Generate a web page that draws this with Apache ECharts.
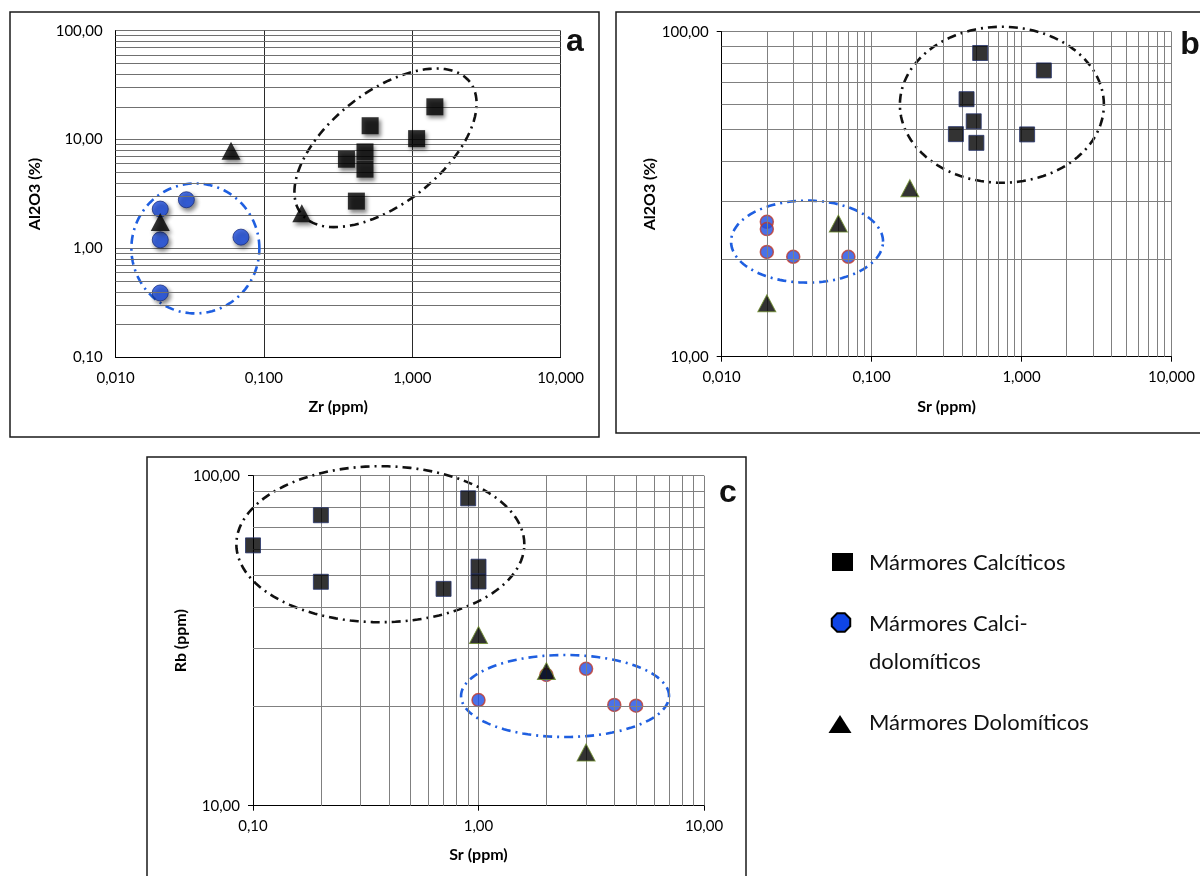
<!DOCTYPE html>
<html><head><meta charset="utf-8">
<script src="https://cdn.jsdelivr.net/npm/echarts@6/dist/echarts.min.js"></script>
<style>html,body{margin:0;padding:0;background:#fff}#c{width:1200px;height:876px}</style>
</head><body><div id="c"></div>
<script>
// ---------- Panel a : Zr (ppm) vs Al2O3 (%) ----------
const aCalciticos = [[0.36,6.6],[0.48,7.7],[0.48,5.35],[0.52,13.4],[0.42,2.72],[1.07,10.2],[1.42,20.0]];
const aCalciDolomiticos = [[0.02,2.3],[0.02,1.2],[0.02,0.39],[0.03,2.8],[0.07,1.27]];
const aDolomiticos = [[0.02,1.75],[0.06,7.9],[0.18,2.1]];
// ---------- Panel b : Sr (ppm) vs Al2O3 (%) ----------
const bCalciticos = [[0.53,86],[1.41,76],[0.43,62],[0.48,53],[0.365,48.4],[0.50,45.5],[1.09,48.3]];
const bCalciDolomiticos = [[0.02,26.0],[0.02,24.7],[0.02,21.0],[0.03,20.3],[0.07,20.3]];
const bDolomiticos = [[0.02,14.6],[0.06,25.7],[0.18,33.0]];
// ---------- Panel c : Sr (ppm) vs Rb (ppm) ----------
const cCalciticos = [[0.1,61.5],[0.2,75.9],[0.2,47.7],[0.9,85.4],[0.7,45.4],[1.0,53.0],[1.0,47.8]];
const cCalciDolomiticos = [[1.0,20.9],[2.0,24.9],[3.0,26.0],[4.0,20.2],[5.0,20.1]];
const cDolomiticos = [[1.0,32.9],[2.0,25.6],[3.0,14.5]];

// axis ranges and minor grid values
const aXRange = [0.01, 10], aYRange = [0.1, 100];
const bXRange = [0.01, 10], bYRange = [10, 100];
const cXRange = [0.1, 10],  cYRange = [10, 100];
const aMinorY = [0.2,0.3,0.4,0.5,0.6,0.7,0.8,0.9,2,3,4,5,6,7,8,9,20,30,40,50,60,70,80,90];
const bMinorX = [0.02,0.03,0.04,0.05,0.06,0.07,0.08,0.09,0.2,0.3,0.4,0.5,0.6,0.7,0.8,0.9,2,3,4,5,6,7,8,9];
const bMinorY = [20,30,40,50,60,70,80,90];
const cMinorX = [0.2,0.3,0.4,0.5,0.6,0.7,0.8,0.9,2,3,4,5,6,7,8,9];
const cMinorY = [20,30,40,50,60,70,80,90];

const seriesNames = ['Mármores Calcíticos','Mármores Calci-dolomíticos','Mármores Dolomíticos'];
const axisNames = {aX:'Zr (ppm)', aY:'Al2O3 (%)', bX:'Sr (ppm)', bY:'Al2O3 (%)', cX:'Sr (ppm)', cY:'Rb (ppm)'};

// group ellipses (annotation): center in data units, radii in px, rotation deg
const ellipses = [
  {g:0, c:[0.66,8.4], rx:107, ry:56, rot:38, color:'#111'},
  {g:0, c:[0.0345,1.0], rx:64, ry:65, rot:0, color:'#1f5fe0'},
  {g:1, c:[0.74,59.6], rx:102, ry:78, rot:0, color:'#111'},
  {g:1, c:[0.0371,22.6], rx:76, ry:41, rot:0, color:'#1f5fe0'},
  {g:2, c:[0.367,62.0], rx:144, ry:78, rot:0, color:'#111'},
  {g:2, c:[2.42,21.5], rx:104, ry:41, rot:0, color:'#1f5fe0'}
];

const FONT = 'Lato';
const fmt = d => v => Number(v).toFixed(d).replace('.', ',');

function axis(gi, range, dec, name, gap, splitColor, tick) {
  return {
    type:'log', logBase:10, gridIndex:gi, min:range[0], max:range[1],
    axisLine:{show:true, lineStyle:{color:'#000', width:1}},
    axisTick:{show:tick, length:5, lineStyle:{color:'#000'}},
    minorTick:{show:false},
    axisLabel:{formatter:fmt(dec), fontFamily:FONT, fontSize:15, color:'#000', margin:13},
    splitLine:{show:true, lineStyle:{color:splitColor, width:1}},
    name:name, nameLocation:'middle', nameGap:gap,
    nameTextStyle:{fontFamily:FONT, fontWeight:'bold', fontSize:16, color:'#000'}
  };
}

function gridSeries(gi, xs, ys, color) {
  return {
    type:'scatter', xAxisIndex:gi, yAxisIndex:gi, data:[], z:1, silent:true,
    markLine:{silent:true, symbol:['none','none'], label:{show:false}, animation:false,
      emphasis:{disabled:true},
      lineStyle:{color:color, width:1, type:'solid'},
      data:[...xs.map(v=>({xAxis:v})), ...ys.map(v=>({yAxis:v}))]}
  };
}

const shadow = {shadowBlur:4, shadowColor:'rgba(0,0,0,0.6)', shadowOffsetX:2, shadowOffsetY:3};
const BLUE = '#1d4fe3';

const series = [
  gridSeries(0, [], aMinorY, '#707070'),
  gridSeries(1, bMinorX, bMinorY, '#808080'),
  gridSeries(2, cMinorX, cMinorY, '#808080'),
  // panel a
  {name:seriesNames[0], type:'scatter', xAxisIndex:0, yAxisIndex:0, data:aCalciticos, symbol:'rect', symbolSize:17, z:5,
    itemStyle:Object.assign({color:'#000'}, shadow)},
  {name:seriesNames[1], type:'scatter', xAxisIndex:0, yAxisIndex:0, data:aCalciDolomiticos, symbol:'circle', symbolSize:16, z:4,
    itemStyle:Object.assign({color:BLUE, borderColor:'#1a2f80', borderWidth:1}, shadow)},
  {name:seriesNames[2], type:'scatter', xAxisIndex:0, yAxisIndex:0, data:aDolomiticos, symbol:'triangle', symbolSize:[19,18], z:6,
    itemStyle:Object.assign({color:'#000'}, shadow)},
  // panel b
  {name:seriesNames[0], type:'scatter', xAxisIndex:1, yAxisIndex:1, data:bCalciticos, symbol:'rect', symbolSize:15, z:5,
    itemStyle:{color:'#000', borderColor:'#26336b', borderWidth:1}},
  {name:seriesNames[1], type:'scatter', xAxisIndex:1, yAxisIndex:1, data:bCalciDolomiticos, symbol:'circle', symbolSize:13, z:4,
    itemStyle:{color:BLUE, borderColor:'#c0392b', borderWidth:1.5}},
  {name:seriesNames[2], type:'scatter', xAxisIndex:1, yAxisIndex:1, data:bDolomiticos, symbol:'triangle', symbolSize:[18,17], z:6,
    itemStyle:{color:'#000', borderColor:'#6b8a2a', borderWidth:1}},
  // panel c
  {name:seriesNames[0], type:'scatter', xAxisIndex:2, yAxisIndex:2, data:cCalciticos, symbol:'rect', symbolSize:15, z:5,
    itemStyle:{color:'#000', borderColor:'#26336b', borderWidth:1}},
  {name:seriesNames[1], type:'scatter', xAxisIndex:2, yAxisIndex:2, data:cCalciDolomiticos, symbol:'circle', symbolSize:13, z:4,
    itemStyle:{color:BLUE, borderColor:'#c0392b', borderWidth:1.5}},
  {name:seriesNames[2], type:'scatter', xAxisIndex:2, yAxisIndex:2, data:cDolomiticos, symbol:'triangle', symbolSize:[18,17], z:6,
    itemStyle:{color:'#000', borderColor:'#6b8a2a', borderWidth:1}}
];

const chart = echarts.init(document.getElementById('c'), null, {renderer:'canvas'});
chart.setOption({
  animation:false,
  backgroundColor:'#fff',
  grid:[
    {left:115.6, top:30.7, width:445, height:326.6},
    {left:721.7, top:31.7, width:449.7, height:325},
    {left:253, top:475.7, width:451, height:330}
  ],
  xAxis:[
    axis(0, aXRange, 3, axisNames.aX, 42, '#2a2a2a', false),
    axis(1, bXRange, 3, axisNames.bX, 42, '#808080', true),
    axis(2, cXRange, 2, axisNames.cX, 41, '#808080', true)
  ],
  yAxis:[
    axis(0, aYRange, 2, axisNames.aY, 73, '#707070', false),
    axis(1, bYRange, 2, axisNames.bY, 64, '#808080', true),
    axis(2, cYRange, 2, axisNames.cY, 53, '#808080', true)
  ],
  series:series
});

// ---- decorations: frames, panel letters, group ellipses, legend ----
const graphic = [];
const frame = (x,y,w,h) => ({type:'rect', silent:true, z:0, shape:{x,y,width:w,height:h},
  style:{fill:'none', stroke:'#1a1a1a', lineWidth:1.5}});
graphic.push(frame(10,12,589,425), frame(616,12,600,421), frame(147,457,599,430));
const letter = (t,x,y) => ({type:'text', silent:true, z:20, x, y,
  style:{text:t, font:'bold 32px "Liberation Sans", Arial, sans-serif', fill:'#111', textAlign:'center', textVerticalAlign:'middle'}});
graphic.push(letter('a',575,42), letter('b',1190,45), letter('c',728,493));

ellipses.forEach(e => {
  const p = chart.convertToPixel({gridIndex:e.g}, e.c);
  const th = e.rot*Math.PI/180, pts = [];
  for (let i=0;i<120;i++){
    const t = i/120*2*Math.PI;
    const ex = e.rx*Math.cos(t), ey = e.ry*Math.sin(t);
    pts.push([p[0] + ex*Math.cos(th) - ey*Math.sin(th), p[1] - (ex*Math.sin(th) + ey*Math.cos(th))]);
  }
  graphic.push({type:'polygon', silent:true, z:3, shape:{points:pts},
    style:{fill:'none', stroke:e.color, lineWidth:2.6, lineDash:[9,5,2,5]}});
});

// legend
const LX = 869;
graphic.push({type:'rect', silent:true, shape:{x:832,y:553,width:21,height:18}, style:{fill:'#000'}});
const oct = [];
for (let i=0;i<8;i++){ const a = (i+0.5)*Math.PI/4; oct.push([841+10*Math.cos(a), 622.5+10*Math.sin(a)]); }
graphic.push({type:'polygon', silent:true, shape:{points:oct}, style:{fill:'#0f45e6', stroke:'#000', lineWidth:2}});
graphic.push({type:'polygon', silent:true, shape:{points:[[828.5,733],[851.5,733],[840,715]]}, style:{fill:'#000'}});
const ltext = (t,y) => ({type:'text', silent:true, x:LX, y, style:{text:t, font:'22px Lato', fill:'#111', textVerticalAlign:'middle'}});
graphic.push(ltext('Mármores Calcíticos',563), ltext('Mármores Calci-',624), ltext('dolomíticos',662), ltext('Mármores Dolomíticos',723));

chart.setOption({graphic:graphic});
</script></body></html>
